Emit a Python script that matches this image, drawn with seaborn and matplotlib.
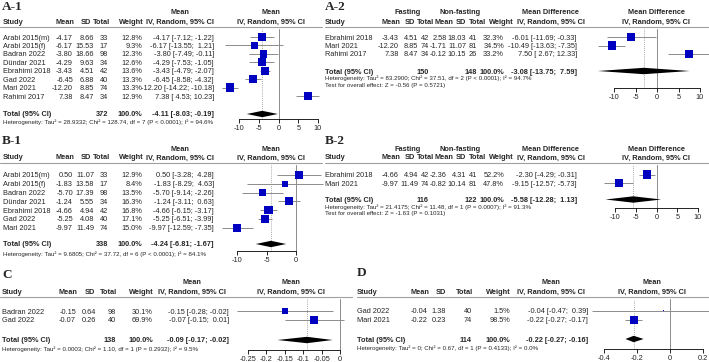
import numpy as np
import seaborn as sns
import matplotlib.pyplot as plt
from matplotlib.lines import Line2D

W, H = 709, 362
sns.set_theme(style="white")
plt.rcParams['font.family'] = ['Liberation Sans', 'DejaVu Sans']
plt.rcParams['axes.unicode_minus'] = False

FS = 5.3
FS_HET = 4.4
BLUE = '#0000c0'
GREY = '#8c8c8c'
SQ = 6.0  # side of the biggest square, points

# ---- A-1 ----
a1_study = ["Arabi 2015(m)", "Arabi 2015(f)", "Badran 2022", "Dündar 2021",
            "Ebrahimi 2018", "Gad 2022", "Mari 2021", "Rahimi 2017"]
a1_mean = [-4.17, -6.17, -3.80, -4.29, -3.43, -6.45, -12.20, 7.38]
a1_sd = [8.66, 15.53, 18.66, 9.63, 4.51, 6.88, 8.85, 8.47]
a1_n = [33, 17, 98, 34, 42, 40, 74, 34]
a1_w = [12.8, 9.3, 12.3, 12.6, 13.6, 13.3, 13.3, 12.9]
a1_lo = [-7.12, -13.55, -7.49, -7.53, -4.79, -8.58, -14.22, 4.53]
a1_hi = [-1.22, 1.21, -0.11, -1.05, -2.07, -4.32, -10.18, 10.23]
a1_total = (372, -4.11, -8.03, -0.19)
a1_het = "Heterogeneity: Tau² = 28.9332; Chi² = 128.74, df = 7 (P < 0.0001); I² = 94.6%"

# ---- B-1 ----
b1_study = ["Arabi 2015(m)", "Arabi 2015(f)", "Badran 2022", "Dündar 2021",
            "Ebrahimi 2018", "Gad 2022", "Mari 2021"]
b1_mean = [0.50, -1.83, -5.70, -1.24, -4.66, -5.25, -9.97]
b1_sd = [11.07, 13.58, 17.39, 5.55, 4.94, 4.08, 11.49]
b1_n = [33, 17, 98, 34, 42, 40, 74]
b1_w = [12.9, 8.4, 13.5, 16.3, 16.8, 17.1, 15.0]
b1_lo = [-3.28, -8.29, -9.14, -3.11, -6.15, -6.51, -12.59]
b1_hi = [4.28, 4.63, -2.26, 0.63, -3.17, -3.99, -7.35]
b1_total = (338, -4.24, -6.81, -1.67)
b1_het = "Heterogeneity: Tau² = 9.6805; Chi² = 37.72, df = 6 (P < 0.0001); I² = 84.1%"

# ---- A-2 ----
a2_study = ["Ebrahimi 2018", "Mari 2021", "Rahimi 2017"]
a2_fmean = [-3.43, -12.20, 7.38]
a2_fsd = [4.51, 8.85, 8.47]
a2_fn = [42, 74, 34]
a2_nmean = [2.58, -1.71, -0.12]
a2_nsd = [18.03, 11.07, 10.15]
a2_nn = [41, 81, 26]
a2_w = [32.3, 34.5, 33.2]
a2_md = [-6.01, -10.49, 7.50]
a2_lo = [-11.69, -13.63, 2.67]
a2_hi = [-0.33, -7.35, 12.33]
a2_total = (150, 148, -3.08, -13.75, 7.59)
a2_het = "Heterogeneity: Tau² = 83.2900; Chi² = 37.51, df = 2 (P < 0.0001); I² = 94.7%"
a2_test = "Test for overall effect: Z = -0.56 (P = 0.5721)"

# ---- B-2 ----
b2_study = ["Ebrahimi 2018", "Mari 2021"]
b2_fmean = [-4.66, -9.97]
b2_fsd = [4.94, 11.49]
b2_fn = [42, 74]
b2_nmean = [-2.36, -0.82]
b2_nsd = [4.31, 10.14]
b2_nn = [41, 81]
b2_w = [52.2, 47.8]
b2_md = [-2.30, -9.15]
b2_lo = [-4.29, -12.57]
b2_hi = [-0.31, -5.73]
b2_total = (116, 122, -5.58, -12.28, 1.13)
b2_het = "Heterogeneity: Tau² = 21.4175; Chi² = 11.48, df = 1 (P = 0.0007); I² = 91.3%"
b2_test = "Test for overall effect: Z = -1.63 (P = 0.1031)"

# ---- C ----
c_study = ["Badran 2022", "Gad 2022"]
c_mean = [-0.15, -0.07]
c_sd = [0.64, 0.26]
c_n = [98, 40]
c_w = [30.1, 69.9]
c_lo = [-0.28, -0.15]
c_hi = [-0.02, 0.01]
c_total = (138, -0.09, -0.17, -0.02)
c_het = "Heterogeneity: Tau² = 0.0003; Chi² = 1.10, df = 1 (P = 0.2932); I² = 9.5%"

# ---- D ----
d_study = ["Gad 2022", "Mari 2021"]
d_mean = [-0.04, -0.22]
d_sd = [1.38, 0.23]
d_n = [40, 74]
d_w = [1.5, 98.5]
d_lo = [-0.47, -0.27]
d_hi = [0.39, -0.17]
d_total = (114, -0.22, -0.27, -0.16)
d_het = "Heterogeneity: Tau² = 0; Chi² = 0.67, df = 1 (P = 0.4133); I² = 0.0%"

fig = plt.figure(figsize=(W / 100, H / 100), dpi=100)


def txt(x, y, s, ha='left', size=FS, bold=False, family=None):
    kw = dict(ha=ha, va='center_baseline', fontsize=size,
              fontweight='bold' if bold else 'normal')
    if family:
        kw['family'] = family
    fig.text(x / W, 1 - y / H, s, **kw)


def hline(x0, x1, y):
    fig.add_artist(Line2D([x0 / W, x1 / W], [1 - y / H] * 2, color='#a0a0a0', lw=0.8))


def ci_str(e, l, h):
    return f"{e:.2f} [{l:5.2f}; {h:5.2f}]"


def forest(fx, Y, rows_y, est, lo, hi, w, tot):
    e, l, h = tot
    k = (fx['p1'] - fx['p0']) / (fx['v1'] - fx['v0'])
    L, R = fx['span']
    top, bot = Y['line'] + 2, Y['axis']
    ax = fig.add_axes([L / W, 1 - bot / H, (R - L) / W, (bot - top) / H])
    ax.set_xlim(fx['v0'] + (L - fx['p0']) / k, fx['v0'] + (R - fx['p0']) / k)
    ax.set_ylim(bot, top)
    ax.axvline(0, color=GREY, lw=0.7, zorder=1)
    ax.axvline(e, color=GREY, lw=0.6, ls=(0, (1, 1.5)), zorder=1)
    ax.hlines(rows_y, lo, hi, color=GREY, lw=0.7, zorder=2)
    sns.scatterplot(x=est, y=rows_y, size=w, sizes=(0, SQ ** 2), size_norm=(0, max(w)),
                    marker='s', color=BLUE, linewidth=0, legend=False, ax=ax, zorder=3)
    dh = 3.2
    ax.fill([l, e, h, e], [Y['total'], Y['total'] - dh, Y['total'], Y['total'] + dh],
            color='black', lw=0, zorder=4)
    for s in ['top', 'left', 'right']:
        ax.spines[s].set_visible(False)
    ax.spines['bottom'].set_bounds(fx['ticks'][0], fx['ticks'][-1])
    ax.spines['bottom'].set_linewidth(0.6)
    ax.spines['bottom'].set_color('black')
    ax.set_xticks(fx['ticks'])
    ax.set_xticklabels([f"{t:g}" for t in fx['ticks']])
    ax.set_yticks([])
    ax.set_xlabel('')
    ax.set_ylabel('')
    ax.tick_params(axis='x', direction='out', length=3, width=0.6, labelsize=FS,
                   pad=1.5, bottom=True, color='black')
    ax.patch.set_alpha(0)


def single_arm(lab, X, Y, fx, study, mean, sd, n, w, lo, hi, total, het):
    txt(X['lab'], Y['label'], lab, size=9.5, bold=True, family='Liberation Serif')
    for xx in (X['ci_hdr'], X['fhdr']):
        txt(xx, Y['h1'], "Mean", ha='center', bold=True)
        txt(xx, Y['h2'], "IV, Random, 95% CI", ha='center', bold=True)
    txt(X['study'], Y['h2'], "Study", bold=True)
    for key, name in [('mean', 'Mean'), ('sd', 'SD'), ('n', 'Total'), ('w', 'Weight')]:
        txt(X['hdr'][key], Y['h2'], name, ha='right', bold=True)
    hline(*X['line'], Y['line'])
    rows_y = Y['r0'] + Y['dy'] * np.arange(len(study))
    for i, yy in enumerate(rows_y):
        txt(X['study'], yy, study[i])
        txt(X['mean'], yy, f"{mean[i]:.2f}", ha='right')
        txt(X['sd'], yy, f"{sd[i]:.2f}", ha='right')
        txt(X['n'], yy, str(n[i]), ha='right')
        txt(X['w'], yy, f"{w[i]:.1f}%", ha='right')
        txt(X['ci'], yy, ci_str(mean[i], lo[i], hi[i]), ha='right')
    n_tot, e, l, h = total
    txt(X['study'], Y['total'], "Total (95% CI)", bold=True)
    txt(X['n'], Y['total'], str(n_tot), ha='right', bold=True)
    txt(X['w'], Y['total'], "100.0%", ha='right', bold=True)
    txt(X['ci'], Y['total'], ci_str(e, l, h), ha='right', bold=True)
    txt(X['study'], Y['het'], het, size=FS_HET)
    forest(fx, Y, rows_y, mean, lo, hi, w, (e, l, h))


def two_arm(lab, X, Y, fx, study, fm, fs, fn, nm, ns, nn, w, md, lo, hi, total, het, test):
    txt(X['lab'], Y['label'], lab, size=9.5, bold=True, family='Liberation Serif')
    txt(X['fast'], Y['h1'], "Fasting", ha='center', bold=True)
    txt(X['nonfast'], Y['h1'], "Non-fasting", ha='center', bold=True)
    for xx in (X['ci_hdr'], X['fhdr']):
        txt(xx, Y['h1'], "Mean Difference", ha='center', bold=True)
        txt(xx, Y['h2'], "IV, Random, 95% CI", ha='center', bold=True)
    txt(X['study'], Y['h2'], "Study", bold=True)
    for key, name in [('fm', 'Mean'), ('fs', 'SD'), ('fn', 'Total'), ('nm', 'Mean'),
                      ('ns', 'SD'), ('nn', 'Total'), ('w', 'Weight')]:
        txt(X['hdr'][key], Y['h2'], name, ha='right', bold=True)
    hline(*X['line'], Y['line'])
    rows_y = Y['r0'] + Y['dy'] * np.arange(len(study))
    for i, yy in enumerate(rows_y):
        txt(X['study'], yy, study[i])
        txt(X['fm'], yy, f"{fm[i]:.2f}", ha='right')
        txt(X['fs'], yy, f"{fs[i]:.2f}", ha='right')
        txt(X['fn'], yy, str(fn[i]), ha='right')
        txt(X['nm'], yy, f"{nm[i]:.2f}", ha='right')
        txt(X['ns'], yy, f"{ns[i]:.2f}", ha='right')
        txt(X['nn'], yy, str(nn[i]), ha='right')
        txt(X['w'], yy, f"{w[i]:.1f}%", ha='right')
        txt(X['ci'], yy, ci_str(md[i], lo[i], hi[i]), ha='right')
    tf, tn, e, l, h = total
    txt(X['study'], Y['total'], "Total (95% CI)", bold=True)
    txt(X['fn'], Y['total'], str(tf), ha='right', bold=True)
    txt(X['nn'], Y['total'], str(tn), ha='right', bold=True)
    txt(X['w'], Y['total'], "100.0%", ha='right', bold=True)
    txt(X['ci'], Y['total'], ci_str(e, l, h), ha='right', bold=True)
    txt(X['study'], Y['het'], het, size=FS_HET)
    txt(X['study'], Y['test'], test, size=FS_HET)
    forest(fx, Y, rows_y, md, lo, hi, w, (e, l, h))


# layout (pixels)
XL = dict(lab=2, study=3, mean=73, sd=94, n=108, w=142, ci=214, ci_hdr=180, fhdr=271, line=(0, 322),
          hdr=dict(mean=74, sd=91, n=110, w=144))
XR = dict(lab=325, study=325, fm=399, fs=418, fn=429, nm=447, ns=466, nn=477, w=504, ci=577,
          hdr=dict(fm=400, fs=415, fn=434, nm=453, ns=466, nn=486, w=514),
          fast=408, nonfast=460, ci_hdr=551, fhdr=656, line=(325, 709))

single_arm("A-1", XL,
           dict(label=6, h1=12, h2=21, line=27, r0=37, dy=8.43, total=114, het=122, axis=118.5),
           dict(p0=239, p1=318, v0=-10, v1=10, span=(216, 324), ticks=[-10, -5, 0, 5, 10]),
           a1_study, a1_mean, a1_sd, a1_n, a1_w, a1_lo, a1_hi, a1_total, a1_het)

single_arm("B-1", XL,
           dict(label=140, h1=148, h2=157, line=163, r0=175, dy=8.8, total=244, het=254, axis=250.5),
           dict(p0=237, p1=296, v0=-10, v1=0, span=(216, 325), ticks=[-10, -5, 0]),
           b1_study, b1_mean, b1_sd, b1_n, b1_w, b1_lo, b1_hi, b1_total, b1_het)

two_arm("A-2", XR,
        dict(label=6, h1=12, h2=21, line=27, r0=37, dy=8.5, total=71, het=78, test=85, axis=88),
        dict(p0=614, p1=700, v0=-10, v1=10, span=(597, 709), ticks=[-10, -5, 0, 5, 10]),
        a2_study, a2_fmean, a2_fsd, a2_fn, a2_nmean, a2_nsd, a2_nn, a2_w, a2_md, a2_lo, a2_hi,
        a2_total, a2_het, a2_test)

two_arm("B-2", XR,
        dict(label=140, h1=148, h2=157, line=163, r0=174.5, dy=8.8, total=199.5, het=207, test=213.5, axis=208),
        dict(p0=615, p1=698, v0=-10, v1=10, span=(597, 709), ticks=[-10, -5, 0, 5, 10]),
        b2_study, b2_fmean, b2_fsd, b2_fn, b2_nmean, b2_nsd, b2_nn, b2_w, b2_md, b2_lo, b2_hi,
        b2_total, b2_het, b2_test)

single_arm("C", dict(lab=2, study=2, mean=76, sd=96, n=116, w=153, ci=229, ci_hdr=192, fhdr=291, line=(0, 352),
                     hdr=dict(mean=77, sd=95, n=117, w=154)),
           dict(label=274, h1=281, h2=291, line=297, r0=311, dy=9, total=340, het=349, axis=349.5),
           dict(p0=248, p1=340, v0=-0.25, v1=0, span=(228, 352),
                ticks=[-0.25, -0.2, -0.15, -0.1, -0.05, 0]),
           c_study, c_mean, c_sd, c_n, c_w, c_lo, c_hi, c_total, c_het)

single_arm("D", dict(lab=357, study=357, mean=428, sd=446, n=472, w=510, ci=588, ci_hdr=551, fhdr=652, line=(357, 709),
                     hdr=dict(mean=429, sd=446, n=473, w=511)),
           dict(label=272, h1=281, h2=291, line=297, r0=310.5, dy=9.5, total=339, het=348, axis=349),
           dict(p0=604, p1=703, v0=-0.4, v1=0.2, span=(590, 709), ticks=[-0.4, -0.2, 0, 0.2]),
           d_study, d_mean, d_sd, d_n, d_w, d_lo, d_hi, d_total, d_het)

fig.savefig("out.png", dpi=100, facecolor='white')
